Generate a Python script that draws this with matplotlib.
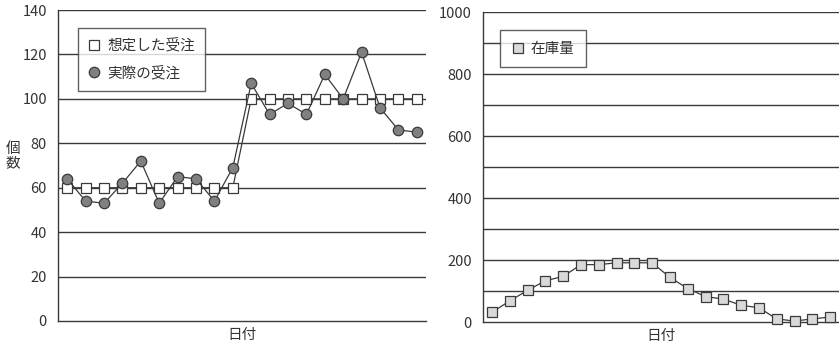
import matplotlib
matplotlib.use("Agg")
import matplotlib.pyplot as plt

plt.rcParams['font.family'] = ['Noto Sans CJK JP', 'DejaVu Sans']

days = list(range(1, 21))
planned_orders = [60] * 10 + [100] * 10
actual_orders = [64, 54, 53, 62, 72, 53, 65, 64, 54, 69,
                 107, 93, 98, 93, 111, 100, 121, 96, 86, 85]
inventory = [31, 68, 102, 133, 147, 185, 185, 191, 191, 191,
             144, 108, 82, 74, 54, 46, 10, 3, 10, 16]

left_ticks = [0, 20, 40, 60, 80, 100, 120, 140]
right_ticks = [0, 200, 400, 600, 800, 1000]

TEXT = '#333333'
LINE = '#3a3a3a'

W, H = 839, 348
fig = plt.figure(figsize=(W / 100, H / 100), dpi=100)

def px_axes(x0, y0, x1, y1):
    return fig.add_axes([x0 / W, 1 - y1 / H, (x1 - x0) / W, (y1 - y0) / H])

def style(ax, ymax, ticks, minor=None):
    ax.set_xlim(0.5, 20.5)
    ax.set_ylim(0, ymax)
    ax.set_yticks(ticks)
    ax.set_xticks([])
    for t in (minor or []) + ticks[1:]:
        ax.axhline(t, color=LINE, lw=1.0, zorder=0)
    for s in ('top', 'right'):
        ax.spines[s].set_visible(False)
    for s in ('left', 'bottom'):
        ax.spines[s].set_color(LINE)
        ax.spines[s].set_linewidth(1.0)
    ax.tick_params(axis='y', length=0, pad=8, labelsize=10.5, labelcolor=TEXT)
    ax.set_xlabel('日付', fontsize=10.5, color=TEXT, labelpad=5)

def style_legend(leg):
    leg.get_frame().set_edgecolor(LINE)
    leg.get_frame().set_linewidth(1.0)
    for t in leg.get_texts():
        t.set_color(TEXT)
    for h in leg.legend_handles:
        h.set_linestyle('none')

# Orders chart: planned vs. actual
ax1 = px_axes(58, 10, 426, 321)
style(ax1, 140, left_ticks)
ax1.plot(days, planned_orders, color=LINE, lw=0.9, marker='s', ms=7,
         mfc='white', mec=LINE, mew=0.9, label='想定した受注', zorder=3)
ax1.plot(days, actual_orders, color=LINE, lw=0.9, marker='o', ms=7.5,
         mfc='#808080', mec=LINE, mew=0.9, label='実際の受注', zorder=4)
fig.text(13 / W, 1 - 156 / H, '個\n数', ha='center', va='center',
         fontsize=10.5, color=TEXT, linespacing=1.0)
leg1 = ax1.legend(loc='upper left', bbox_to_anchor=(20 / 368, 1 - 18 / 311),
                  fontsize=10.5, frameon=True, fancybox=False, borderpad=0.7,
                  handlelength=0.8, handletextpad=0.5, labelspacing=0.9,
                  borderaxespad=0)
style_legend(leg1)

# Inventory chart
ax2 = px_axes(483, 12, 839, 322)
style(ax2, 1000, right_ticks, minor=[100, 300, 500, 700, 900])
ax2.plot(days, inventory, color=LINE, lw=0.9, marker='s', ms=7,
         mfc='#d9d9d9', mec=LINE, mew=0.9, label='在庫量', zorder=3,
         clip_on=False)
leg2 = ax2.legend(loc='upper left', bbox_to_anchor=(17 / 356, 1 - 18 / 310),
                  fontsize=10.5, frameon=True, fancybox=False, borderpad=0.8,
                  handlelength=0.8, handletextpad=0.5, borderaxespad=0)
style_legend(leg2)

fig.savefig('out.png', dpi=100, facecolor='white')
